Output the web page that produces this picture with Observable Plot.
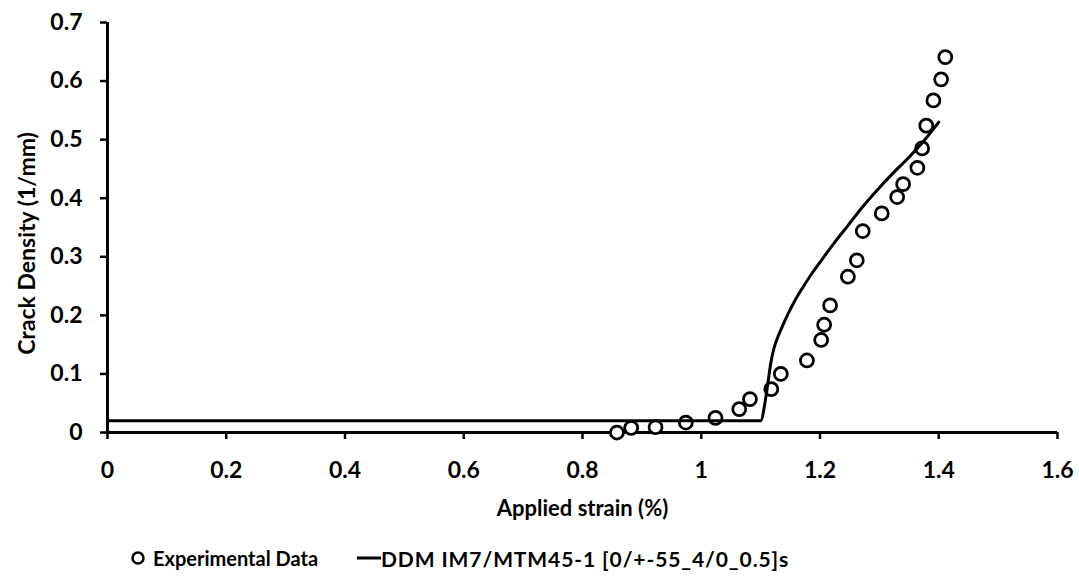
<!DOCTYPE html>
<html>
<head>
<meta charset="utf-8">
<script src="https://cdn.jsdelivr.net/npm/d3@7"></script>
<script src="https://cdn.jsdelivr.net/npm/@observablehq/plot@0.6"></script>
<style>
  html, body { margin: 0; padding: 0; background: #fff; }
  #wrap { width: 1079px; font-family: Lato, "Open Sans", sans-serif; font-weight: 700; color: #000; }
  #legend { position: relative; width: 1079px; height: 56px; font-size: 20px; }
  #legend .item { position: absolute; top: 0; height: 56px; display: flex; align-items: center; white-space: nowrap; }
  svg { display: block; }
</style>
</head>
<body>
<div id="wrap">
  <div id="chart"></div>
  <div id="legend"></div>
</div>
<script>
// Experimental data (applied strain %, crack density 1/mm)
const expStrain  = [0.858, 0.882, 0.923, 0.974, 1.024, 1.064, 1.082, 1.118, 1.134, 1.178, 1.202, 1.207, 1.217, 1.247, 1.262, 1.272, 1.304, 1.330, 1.340, 1.364, 1.372, 1.379, 1.391, 1.404, 1.411];
const expDensity = [0.000, 0.008, 0.009, 0.017, 0.025, 0.040, 0.057, 0.074, 0.100, 0.123, 0.158, 0.184, 0.217, 0.266, 0.294, 0.344, 0.374, 0.402, 0.424, 0.452, 0.485, 0.524, 0.567, 0.603, 0.641];

// DDM model curve
const ddmStrain  = [0.000, 1.100, 1.108, 1.113, 1.117, 1.122, 1.129, 1.136, 1.145, 1.156, 1.170, 1.186, 1.206, 1.225, 1.246, 1.274, 1.300, 1.325, 1.350, 1.375, 1.400];
const ddmDensity = [0.020, 0.020, 0.055, 0.090, 0.118, 0.142, 0.163, 0.180, 0.200, 0.222, 0.246, 0.271, 0.299, 0.325, 0.352, 0.388, 0.418, 0.445, 0.470, 0.498, 0.530];

const xTicks = [0, 0.2, 0.4, 0.6, 0.8, 1, 1.2, 1.4, 1.6];
const xTickLabels = ["0", "0.2", "0.4", "0.6", "0.8", "1", "1.2", "1.4", "1.6"];
const yTicks = [0, 0.1, 0.2, 0.3, 0.4, 0.5, 0.6, 0.7];
const yTickLabels = ["0", "0.1", "0.2", "0.3", "0.4", "0.5", "0.6", "0.7"];

const xTitle = "Applied strain (%)";
const yTitle = "Crack Density (1/mm)";
const seriesNames = ["Experimental Data", "DDM IM7/MTM45-1 [0/+-55_4/0_0.5]s"];

const expData = expStrain.map((x, i) => ({x, y: expDensity[i]}));
const ddmData = ddmStrain.map((x, i) => ({x, y: ddmDensity[i]}));

const font = "Lato, 'Open Sans', sans-serif";

const chart = Plot.plot({
  width: 1079,
  height: 530,
  marginLeft: 107,
  marginRight: 22,
  marginTop: 22,
  marginBottom: 98,
  style: { fontFamily: font, fontWeight: 700, fontSize: "23px", background: "#fff", color: "#000" },
  x: { domain: [0, 1.6] },
  y: { domain: [0, 0.7] },
  marks: [
    Plot.axisX({
      ticks: xTicks,
      tickFormat: (d) => xTickLabels[xTicks.indexOf(d)],
      tickSize: 7,
      tickPadding: 22,
      strokeWidth: 2.5,
      fontSize: 23,
      label: null
    }),
    Plot.axisY({
      ticks: yTicks,
      tickFormat: (d) => yTickLabels[yTicks.indexOf(d)],
      tickSize: 7,
      tickPadding: 18,
      strokeWidth: 2.5,
      fontSize: 23,
      label: null
    }),
    Plot.text([xTitle], { frameAnchor: "bottom", textAnchor: "middle", lineAnchor: "middle", dy: 76, fontSize: 22, fontWeight: 700, fill: "#000" }),
    Plot.text([yTitle], { frameAnchor: "left", textAnchor: "middle", lineAnchor: "middle", dx: -80, dy: 16, rotate: -90, fontSize: 23, fontWeight: 700, fill: "#000" }),
    Plot.ruleY([0], { stroke: "#000", strokeWidth: 3 }),
    Plot.ruleX([0], { stroke: "#000", strokeWidth: 3 }),
    Plot.dot(expData, { x: "x", y: "y", r: 6.5, stroke: "#000", strokeWidth: 2.75, fill: "#fff" }),
    Plot.line(ddmData, { x: "x", y: "y", stroke: "#000", strokeWidth: 3, curve: "monotone-x" })
  ]
});
document.getElementById("chart").appendChild(chart);

// Legend below the SVG
const legend = document.getElementById("legend");
const item1 = document.createElement("div");
item1.className = "item";
item1.style.left = "130px";
item1.innerHTML = `<svg width="18" height="18" style="margin-right:5px"><circle cx="8" cy="9" r="5.5" fill="#fff" stroke="#000" stroke-width="2.5"/></svg><span>${seriesNames[0]}</span>`;
const item2 = document.createElement("div");
item2.className = "item";
item2.style.left = "357px";
item2.innerHTML = `<svg width="24" height="18"><line x1="0" y1="9" x2="24" y2="9" stroke="#000" stroke-width="3"/></svg><span style="font-size:21px;letter-spacing:0.9px">${seriesNames[1]}</span>`;
legend.appendChild(item1);
legend.appendChild(item2);
</script>
</body>
</html>
